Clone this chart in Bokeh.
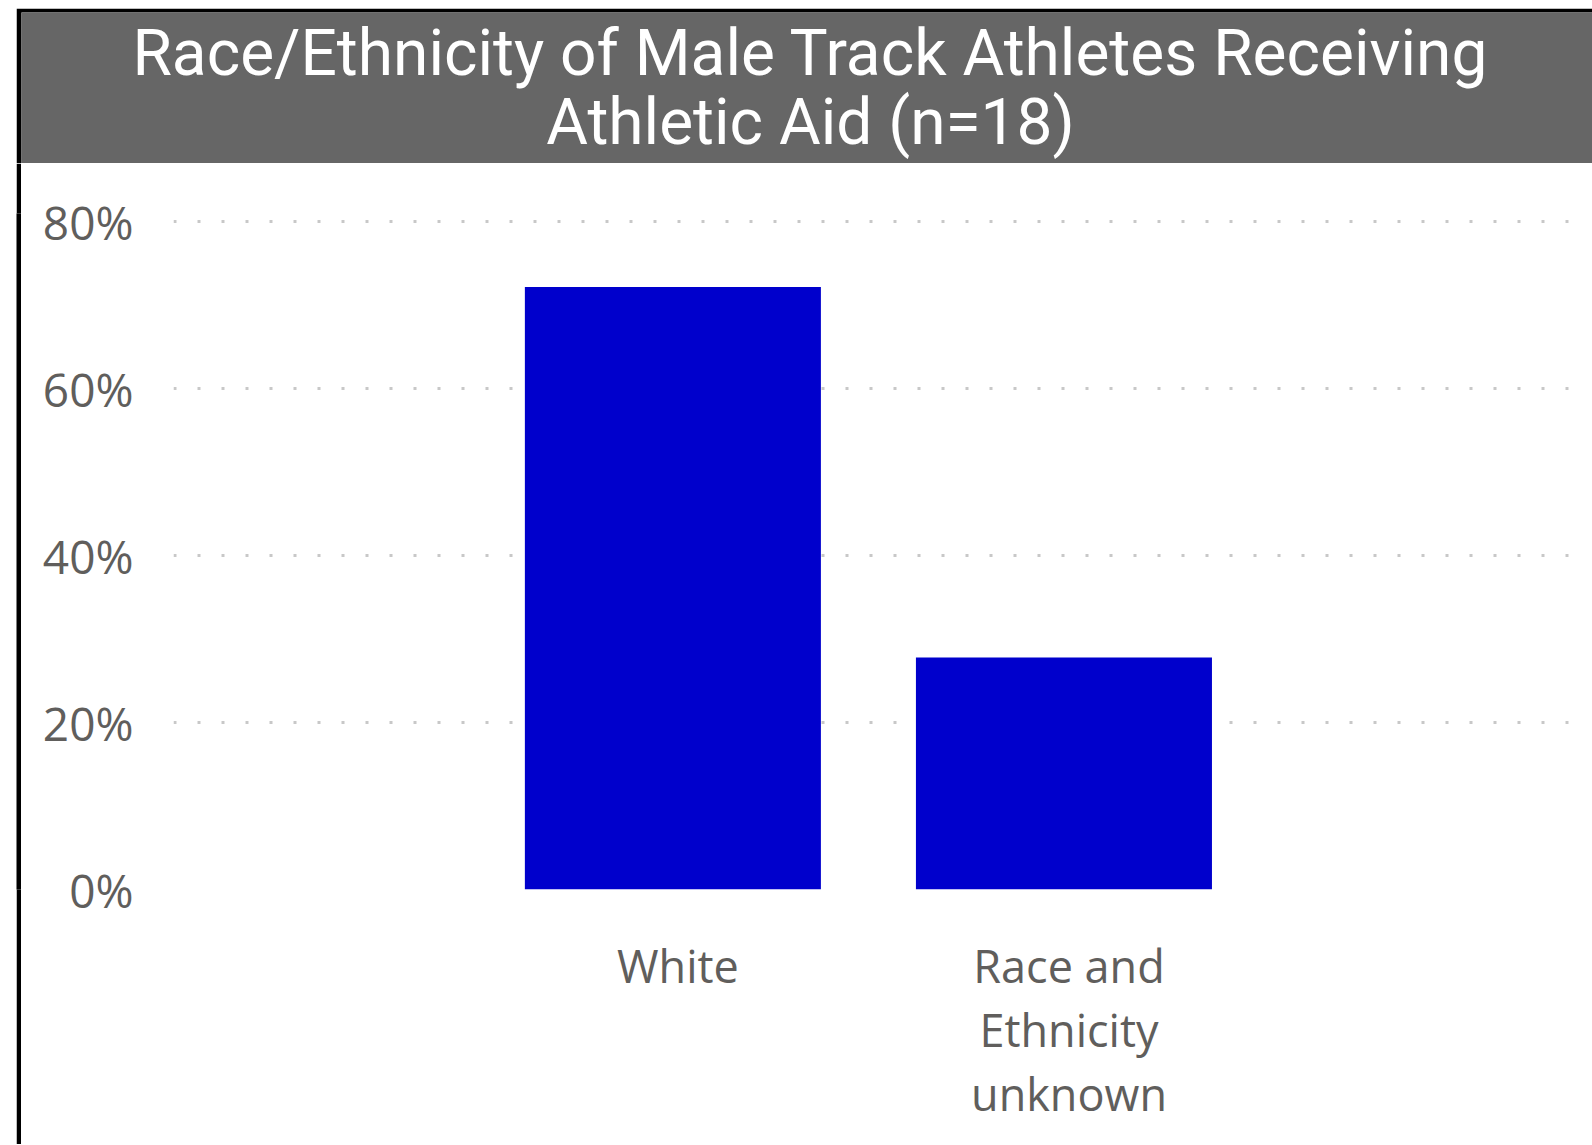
from bokeh.plotting import figure
from bokeh.models import (ColumnDataSource, FactorRange, Range1d, FixedTicker,
                          NumeralTickFormatter, Label, Spacer)
from bokeh.transform import dodge
from bokeh.layouts import column, row
from bokeh.embed import file_html
from bokeh.resources import INLINE

# ---- data ----
categories = ["White", "Race and\nEthnicity\nunknown"]
shares = [0.722, 0.278]
y_ticks = [0.0, 0.2, 0.4, 0.6, 0.8]
title_lines = ["Race/Ethnicity of Male Track Athletes Receiving", "Athletic Aid (n=18)"]

LABEL_COLOR = "#605e5c"

# ---- header (grey band, black top/left border) ----
header = figure(width=1576, height=155, output_backend="svg", toolbar_location=None,
                x_range=Range1d(0, 1), y_range=Range1d(0, 1),
                min_border_top=4, min_border_left=5, min_border_right=0, min_border_bottom=0,
                x_axis_location=None, y_axis_location=None, title=None)
header.grid.visible = False
header.outline_line_color = None
header.background_fill_color = "#666666"
header.border_fill_color = "black"
for line, ys in zip(title_lines, [110, 41]):
    header.add_layout(Label(x=789, y=ys, x_units="screen", y_units="screen",
                            text=line, text_align="center", text_baseline="alphabetic",
                            text_color="white", text_font="Roboto", text_font_size="64px"))

# ---- left black strip ----
strip = figure(width=5, height=981, output_backend="svg", toolbar_location=None,
               x_range=Range1d(0, 1), y_range=Range1d(0, 1),
               min_border_top=0, min_border_left=0, min_border_right=0, min_border_bottom=0,
               x_axis_location=None, y_axis_location=None, title=None)
strip.grid.visible = False
strip.outline_line_color = None
strip.background_fill_color = "black"
strip.border_fill_color = "black"

# ---- main chart ----
source = ColumnDataSource(data=dict(cat=categories, share=shares))

p = figure(
    width=1570, height=981, output_backend="svg", toolbar_location=None,
    x_range=FactorRange(factors=categories, range_padding=0.79, range_padding_units="absolute"),
    y_range=Range1d(0, 0.81),
    min_border_left=152, min_border_right=18, min_border_top=50, min_border_bottom=255,
    title=None,
)
p.outline_line_color = None
p.background_fill_color = "white"
p.border_fill_color = "white"

p.vbar(x=dodge("cat", -0.013, range=p.x_range), top="share", width=0.757, source=source,
       fill_color="#0000CC", line_color=None)

p.xgrid.grid_line_color = None
p.ygrid.ticker = FixedTicker(ticks=y_ticks)
p.ygrid.grid_line_color = "#c8c8c8"
p.ygrid.grid_line_width = 3
p.ygrid.grid_line_dash = "3 21"

p.yaxis.ticker = FixedTicker(ticks=y_ticks)
p.yaxis.formatter = NumeralTickFormatter(format="0%")
p.yaxis.axis_line_color = None
p.yaxis.major_tick_line_color = None
p.yaxis.minor_tick_line_color = None
p.yaxis.major_tick_out = 0
p.yaxis.major_tick_in = 0
p.yaxis.major_label_standoff = 40
p.yaxis.major_label_text_font = "Open Sans"
p.yaxis.major_label_text_font_size = "46px"
p.yaxis.major_label_text_color = LABEL_COLOR

p.xaxis.axis_line_color = None
p.xaxis.major_tick_line_color = None
p.xaxis.minor_tick_line_color = None
p.xaxis.major_tick_out = 0
p.xaxis.major_tick_in = 0
p.xaxis.major_label_standoff = 45
p.xaxis.major_label_text_font = "Open Sans"
p.xaxis.major_label_text_font_size = "45px"
p.xaxis.major_label_text_color = LABEL_COLOR
p.xaxis.major_label_text_line_height = 1.05
p.xaxis.major_label_orientation = "horizontal"

layout = column(
    Spacer(width=1592, height=8),
    row(Spacer(width=16, height=155), header),
    row(Spacer(width=16, height=981), strip, p),
)

open("out.html", "w").write(file_html(layout, INLINE))
